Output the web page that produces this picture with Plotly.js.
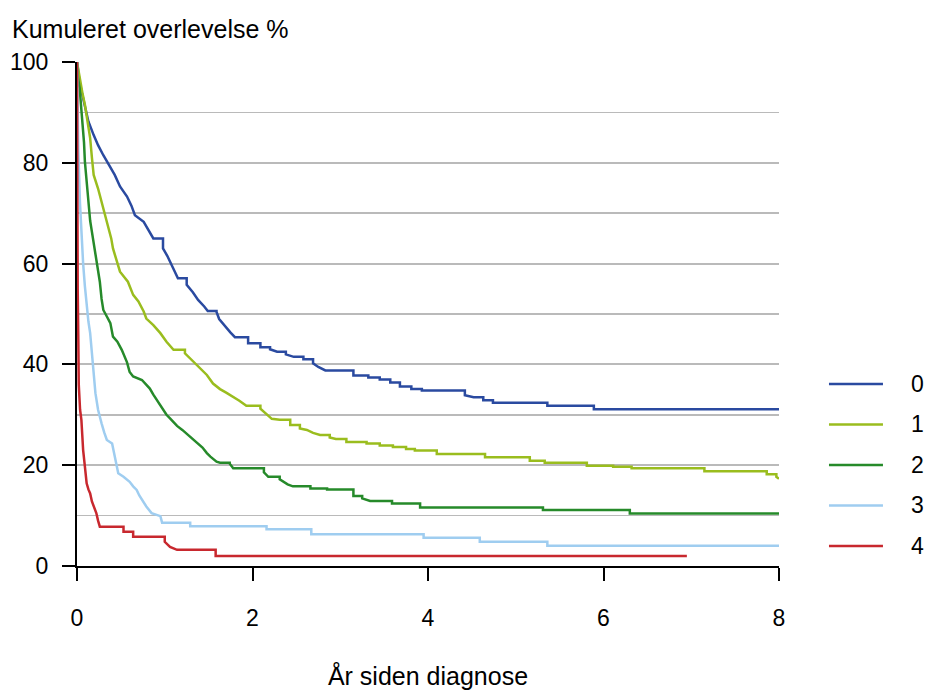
<!DOCTYPE html>
<html>
<head>
<meta charset="utf-8">
<script src="https://cdn.plot.ly/plotly-3.0.1.min.js"></script>
<style>
  html, body { margin: 0; padding: 0; background: #fff; }
  #graph { width: 928px; height: 693px; }
</style>
</head>
<body>
<div id="graph"></div>
<script>
// survival curves (years, cumulative survival %)
const groups = ['0', '1', '2', '3', '4']
const colors = ['#2a4aa0', '#9abd1e', '#268a2a', '#9fcdf0', '#c8282e']

const t0 = [0, 0.03, 0.08, 0.13, 0.19, 0.24, 0.30, 0.36, 0.43, 0.49, 0.57, 0.62, 0.66, 0.76, 0.82, 0.87, 0.98, 1.03, 1.08, 1.15, 1.25, 1.32, 1.38, 1.45, 1.49, 1.59, 1.62, 1.69, 1.75, 1.80, 1.95, 2.09, 2.20, 2.28, 2.38, 2.47, 2.58, 2.69, 2.75, 2.83, 3.15, 3.32, 3.45, 3.57, 3.68, 3.81, 3.93, 4.42, 4.52, 4.63, 4.74, 5.36, 5.89, 8.0]
const s0 = [100, 96, 92, 88.2, 85.5, 83.5, 81.5, 79.6, 77.6, 75.3, 73.3, 71.5, 69.6, 68.3, 66.5, 65, 63, 61.5, 59.7, 57.1, 55.8, 54.3, 52.8, 51.5, 50.6, 50.4, 49, 47.5, 46.3, 45.4, 44.2, 43.4, 43.0, 42.5, 42.0, 41.5, 41.0, 40.2, 39.5, 38.8, 37.8, 37.4, 37.0, 36.4, 35.6, 35.1, 34.8, 33.9, 33.5, 32.9, 32.4, 31.8, 31.1, 31.1]

const t1 = [0, 0.03, 0.06, 0.09, 0.12, 0.15, 0.17, 0.19, 0.24, 0.27, 0.30, 0.33, 0.36, 0.39, 0.41, 0.45, 0.49, 0.58, 0.64, 0.70, 0.76, 0.79, 0.87, 0.95, 1.02, 1.10, 1.23, 1.30, 1.36, 1.42, 1.48, 1.55, 1.63, 1.70, 1.78, 1.85, 1.93, 2.09, 2.16, 2.22, 2.31, 2.43, 2.54, 2.62, 2.69, 2.77, 2.88, 2.95, 3.07, 3.30, 3.45, 3.60, 3.75, 3.85, 4.10, 4.65, 5.16, 5.33, 5.81, 6.11, 6.32, 7.15, 7.86, 7.97, 8.0]
const s1 = [100, 96.8, 94, 91.5, 88, 84.9, 81, 77.6, 74.9, 73, 71, 69, 67, 65, 63, 60.5, 58.4, 56.4, 53.8, 52.5, 50.5, 49.1, 47.8, 46.2, 44.5, 42.9, 42.2, 41, 39.9, 38.8, 37.9, 36.2, 35.1, 34.4, 33.6, 32.8, 31.8, 31.2, 30.2, 29.2, 29.0, 28.0, 27.3, 27.0, 26.4, 26.0, 25.5, 25.2, 24.6, 24.3, 23.9, 23.6, 23.2, 22.9, 22.2, 21.6, 20.9, 20.5, 19.9, 19.7, 19.4, 18.8, 18.2, 17.7, 17.3]

const t2 = [0, 0.01, 0.03, 0.05, 0.065, 0.08, 0.09, 0.11, 0.13, 0.15, 0.17, 0.19, 0.21, 0.24, 0.26, 0.28, 0.30, 0.34, 0.38, 0.41, 0.46, 0.51, 0.54, 0.57, 0.60, 0.64, 0.74, 0.79, 0.83, 0.87, 0.91, 0.96, 1.02, 1.06, 1.10, 1.14, 1.20, 1.25, 1.33, 1.38, 1.43, 1.48, 1.52, 1.59, 1.63, 1.74, 1.78, 2.13, 2.18, 2.31, 2.40, 2.46, 2.66, 2.85, 3.15, 3.25, 3.34, 3.59, 3.91, 5.31, 6.30, 8.0]
const s2 = [100, 97, 94.8, 91, 88.2, 84, 80.2, 76, 71.6, 68.5, 66.3, 64, 61.7, 58.5, 56.4, 53, 50.8, 49.5, 48.2, 45.5, 44.5, 42.9, 41.5, 40.4, 38.5, 37.6, 36.9, 35.9, 35.2, 34, 32.9, 31.4, 30.0, 29.3, 28.5, 27.8, 27.0, 26.2, 25.0, 24.3, 23.5, 22.4, 21.7, 20.7, 20.5, 20.3, 19.4, 18.6, 17.7, 17.2, 16.2, 15.8, 15.4, 15.2, 13.9, 13.4, 12.9, 12.4, 11.6, 11.1, 10.4, 10.4]

const t3 = [0, 0.005, 0.015, 0.034, 0.05, 0.07, 0.09, 0.11, 0.13, 0.15, 0.165, 0.18, 0.195, 0.21, 0.24, 0.26, 0.28, 0.31, 0.34, 0.40, 0.42, 0.43, 0.45, 0.47, 0.53, 0.60, 0.64, 0.68, 0.71, 0.74, 0.79, 0.85, 0.95, 0.97, 1.29, 2.16, 2.67, 3.95, 4.59, 5.36, 8.0]
const s3 = [100, 90, 82.5, 72, 66, 60, 55.5, 51.5, 48.5, 46.2, 43, 39.5, 36.5, 34.3, 31.0, 29.5, 28.3, 26.5, 25.0, 24.3, 22.5, 21.7, 20, 18.4, 17.7, 16.7, 15.8, 15.1, 14, 13.1, 11.8, 10.5, 9.9, 8.6, 7.9, 7.3, 6.3, 5.6, 4.8, 4.0, 4.0]

const t4 = [0, 0.003, 0.008, 0.015, 0.02, 0.035, 0.05, 0.06, 0.07, 0.09, 0.10, 0.11, 0.13, 0.15, 0.17, 0.19, 0.22, 0.24, 0.26, 0.53, 0.64, 1.00, 1.06, 1.14, 1.58, 6.95]
const s4 = [100, 72, 55, 45, 36, 31, 29, 26, 23, 19.7, 18, 16.4, 15.2, 14.4, 12.8, 11.8, 10.5, 9, 7.8, 6.8, 5.8, 4.8, 3.8, 3.2, 2.0, 2.0]

const times = [t0, t1, t2, t3, t4]
const surv = [s0, s1, s2, s3, s4]

const font = 'Liberation Sans, Arial, sans-serif'

// long flat stretches get a real step corner; dense drops stay as a slope
// (the many tiny steps of the original blur into a diagonal at this size)
function stepPath(t, s, gap) {
    let x = [t[0]], y = [s[0]]
    for (let i = 1; i < t.length; i++) {
        if (t[i] - t[i - 1] > gap) {
            x.push(t[i]); y.push(s[i - 1])
        }
        x.push(t[i]); y.push(s[i])
    }
    return {x: x, y: y}
}

let data = groups.map((g, i) => {
    let p = stepPath(times[i], surv[i], 0.1)
    return {
        type: 'scatter',
        mode: 'lines',
        name: g,
        x: p.x,
        y: p.y,
        line: {color: colors[i], width: 2.5},
        showlegend: false,
    }
})

// hand-placed legend to the right of the plot
let legendTop = 0.3611
let legendStep = 0.0803
let shapes = groups.map((g, i) => ({
    type: 'line',
    xref: 'paper', yref: 'paper',
    x0: 1.0712, x1: 1.1481,
    y0: legendTop - i * legendStep, y1: legendTop - i * legendStep,
    line: {color: colors[i], width: 2.5},
}))
let annotations = groups.map((g, i) => ({
    xref: 'paper', yref: 'paper',
    x: 1.1966, y: legendTop - i * legendStep,
    xanchor: 'center', yanchor: 'middle',
    text: g, showarrow: false,
    font: {family: font, size: 23, color: '#000'},
}))
annotations.push({
    xref: 'paper', yref: 'paper',
    x: -0.096, y: 1.066,
    xanchor: 'left', yanchor: 'middle',
    text: 'Kumuleret overlevelse %', showarrow: false,
    font: {family: font, size: 25, color: '#000'},
})

let layout = {
    width: 928,
    height: 693,
    margin: {l: 77, r: 149, t: 62, b: 127},
    paper_bgcolor: '#fff',
    plot_bgcolor: '#fff',
    font: {family: font, size: 23, color: '#000'},
    xaxis: {
        range: [0, 8],
        dtick: 2,
        tick0: 0,
        showgrid: false,
        zeroline: false,
        showline: true,
        linecolor: '#000',
        linewidth: 2,
        ticks: 'outside',
        ticklen: 13,
        tickwidth: 2,
        tickcolor: '#000',
        ticklabelstandoff: 17,
        tickfont: {family: font, size: 23},
        title: {
            text: 'År siden diagnose',
            standoff: 38,
            font: {family: font, size: 25},
        },
    },
    yaxis: {
        range: [0, 100],
        dtick: 20,
        tick0: 0,
        showgrid: true,
        gridcolor: '#bababa',
        gridwidth: 1.8,
        zeroline: false,
        showline: true,
        linecolor: '#000',
        linewidth: 2,
        ticks: 'outside',
        ticklen: 13,
        tickwidth: 2,
        tickcolor: '#000',
        ticklabelstandoff: 9,
        tickfont: {family: font, size: 23},
        minor: {
            dtick: 10,
            tick0: 0,
            showgrid: true,
            gridcolor: '#bababa',
            gridwidth: 1.8,
            ticks: '',
        },
    },
    shapes: shapes,
    annotations: annotations,
}

Plotly.newPlot('graph', data, layout, {displayModeBar: false, staticPlot: true})
</script>
</body>
</html>
